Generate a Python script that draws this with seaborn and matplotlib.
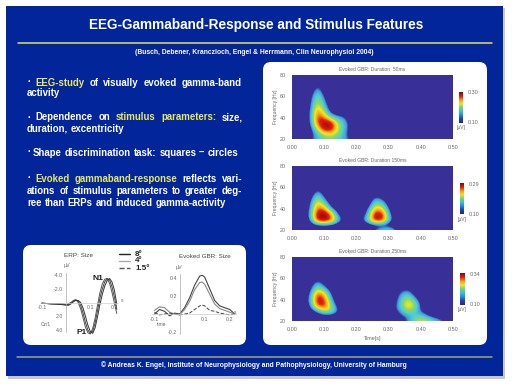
import numpy as np
import seaborn as sns
from matplotlib import pyplot as plt
from matplotlib.colors import LinearSegmentedColormap, Normalize
from matplotlib.patches import FancyBboxPatch, Rectangle

sns.set_theme(style="white")
plt.rcParams["font.family"] = ["Liberation Sans", "DejaVu Sans"]

BLUE = "#02269a"
GREY = "#666666"
BACK = "#382f98"

# time-frequency data, hundredths of a uV
tf_times = [round(0.02 * i, 2) for i in range(26)]
tf_freqs = [20, 25, 30, 35, 40, 45, 50, 55, 60, 65, 70, 75, 80]

gbr_50 = [
    [8, 8, 8, 10, 12, 14, 15, 14, 12, 10, 8, 8, 8, 8, 8, 8, 8, 8, 8, 8, 8, 8, 8, 8, 8, 8],
    [8, 8, 8, 9, 13, 18, 19, 16, 12, 9, 8, 8, 8, 8, 8, 8, 8, 8, 8, 8, 8, 8, 8, 8, 8, 8],
    [8, 8, 8, 9, 18, 30, 31, 19, 13, 9, 8, 8, 8, 8, 8, 8, 8, 8, 8, 8, 8, 8, 8, 8, 8, 8],
    [8, 8, 8, 10, 26, 32, 30, 17, 13, 9, 8, 8, 8, 8, 8, 8, 8, 8, 8, 8, 8, 8, 8, 8, 8, 8],
    [8, 8, 8, 10.5, 27, 24, 15, 12, 11, 8, 8, 8, 8, 8, 8, 8, 8, 8, 8, 8, 8, 8, 8, 8, 8, 8],
    [8, 8, 8, 10.5, 25, 17, 9, 8, 8, 8, 8, 8, 8, 8, 8, 8, 8, 8, 8, 8, 8, 8, 8, 8, 8, 8],
    [8, 8, 8, 10, 21, 13, 8, 8, 8, 8, 8, 8, 8, 8, 8, 8, 8, 8, 8, 8, 8, 8, 8, 8, 8, 8],
    [8, 8, 8, 9.5, 18, 11, 8, 8, 8, 8, 8, 8, 8, 8, 8, 8, 8, 8, 8, 8, 8, 8, 8, 8, 8, 8],
    [8, 8, 8, 9, 16, 9.5, 8, 8, 8, 8, 8, 8, 8, 8, 8, 8, 8, 8, 8, 8, 8, 8, 8, 8, 8, 8],
    [8, 8, 8, 8, 13, 8, 8, 8, 8, 8, 8, 8, 8, 8, 8, 8, 8, 8, 8, 8, 8, 8, 8, 8, 8, 8],
    [8, 8, 8, 8, 10.5, 8, 8, 8, 8, 8, 8, 8, 8, 8, 8, 8, 8, 8, 8, 8, 8, 8, 8, 8, 8, 8],
    [8] * 26,
    [8] * 26,
]
gbr_150 = [
    [8, 8, 8, 8, 8, 8, 8, 8, 8, 8, 8, 8, 8.5, 11, 13, 14, 11, 8, 8, 8, 8, 8, 8, 8, 8, 8],
    [8, 8, 8, 8, 9, 9, 9, 8, 8, 8, 8, 8, 8, 8, 8, 8, 8, 8, 8, 8, 8, 8, 8, 8, 8, 8],
    [8, 8, 8, 11, 28, 33, 26, 14, 9, 8, 8, 10, 16, 30, 28, 13, 8.5, 8, 8, 8, 8, 8, 8, 8, 8, 8],
    [8, 8, 8, 12, 29, 32, 22, 10, 8, 8, 8, 8, 13, 29, 27, 11, 8, 8, 8, 8, 8, 8, 8, 8, 8, 8],
    [8, 8, 8, 11, 25, 22, 11, 8, 8, 8, 8, 8, 10.5, 21, 19, 9.5, 8, 8, 8, 8, 8, 8, 8, 8, 8, 8],
    [8, 8, 8, 10, 21, 14, 8, 8, 8, 8, 8, 8, 8, 15, 13, 8, 8, 8, 8, 8, 8, 8, 8, 8, 8, 8],
    [8, 8, 8, 9, 16, 10, 8, 8, 8, 8, 8, 8, 8, 11, 9.5, 8, 8, 8, 8, 8, 8, 8, 8, 8, 8, 8],
    [8, 8, 8, 8, 12, 8.5, 8, 8, 8, 8, 8, 8, 8, 8, 8, 8, 8, 8, 8, 8, 8, 8, 8, 8, 8, 8],
    [8, 8, 8, 8, 9, 8, 8, 8, 8, 8, 8, 8, 8, 8, 8, 8, 8, 8, 8, 8, 8, 8, 8, 8, 8, 8],
    [8] * 26,
    [8] * 26,
    [8] * 26,
    [8] * 26,
]
gbr_250 = [
    [8, 8, 8, 8, 8, 8, 8, 8, 8, 8, 8, 8, 8, 8, 8, 8, 8, 8, 11, 16, 21, 19, 15, 12, 9.5, 8],
    [8, 8, 8, 8, 8, 8, 8, 8, 8, 8, 8, 8, 8, 8, 8, 8, 8, 10, 12, 14, 14, 10.5, 8, 8, 8, 8],
    [8, 8, 8, 8.5, 12, 20, 19, 11, 8, 8, 8, 8, 8, 8, 8, 8, 9.5, 13, 18, 15, 10, 8, 8, 8, 8, 8],
    [8, 8, 8, 11, 30, 32, 17, 8.5, 8, 8, 8, 8, 8, 8, 8, 8, 9.5, 15, 24, 19, 9, 8, 8, 8, 8, 8],
    [8, 8, 8, 13, 33, 30, 12, 8, 8, 8, 8, 8, 8, 8, 8, 8, 8.5, 14, 20, 13, 8, 8, 8, 8, 8, 8],
    [8, 8, 8, 11, 30, 23, 10, 8, 8, 8, 8, 8, 8, 8, 8, 8, 8, 12, 14, 9, 8, 8, 8, 8, 8, 8],
    [8, 8, 8, 9.5, 19, 13, 8, 8, 8, 8, 8, 8, 8, 8, 8, 8, 8, 9.5, 10, 8, 8, 8, 8, 8, 8, 8],
    [8, 8, 8, 8.5, 13, 9, 8, 8, 8, 8, 8, 8, 8, 8, 8, 8, 8, 8, 8, 8, 8, 8, 8, 8, 8, 8],
    [8, 8, 8, 8, 9, 8, 8, 8, 8, 8, 8, 8, 8, 8, 8, 8, 8, 8, 8, 8, 8, 8, 8, 8, 8, 8],
    [8] * 26,
    [8] * 26,
    [8] * 26,
    [8] * 26,
]

tf_titles = ["Evoked GBR: Duration  50ms", "Evoked GBR: Duration 150ms", "Evoked GBR: Duration 250ms"]
tf_vmax = [0.30, 0.29, 0.34]
tf_vmin = [0.10, 0.10, 0.10]

# ERP: Size
erp_t = [-0.1, -0.06, -0.02, 0.0, 0.01, 0.02, 0.03, 0.04, 0.05, 0.06, 0.07, 0.08, 0.09,
         0.1, 0.11, 0.12, 0.13, 0.14, 0.15, 0.16, 0.17, 0.18, 0.19, 0.2, 0.21]
erp_8 = [0.1, 0.2, 0.2, 0.3, 0.3, 0.1, -0.2, -0.4, -0.2, 0.4, 1.5, 2.9, 4.0,
         4.5, 4.2, 3.0, 1.2, -0.6, -2.0, -3.0, -3.5, -3.3, -2.3, -0.8, 1.0]
erp_4 = [0.1, 0.2, 0.2, 0.3, 0.2, 0.0, -0.3, -0.4, 0.0, 0.9, 2.2, 3.6, 4.4,
         4.6, 3.8, 2.3, 0.4, -1.4, -2.7, -3.4, -3.5, -2.8, -1.5, 0.1, 1.6]
erp_15 = [0.1, 0.2, 0.3, 0.4, 0.4, 0.2, -0.1, -0.3, -0.3, 0.0, 0.8, 2.0, 3.3,
          4.2, 4.5, 3.7, 2.1, 0.3, -1.2, -2.4, -3.2, -3.5, -3.0, -1.8, 0.2]

# Evoked GBR: Size
gbr_t = [-0.1, -0.08, -0.06, -0.04, -0.02, 0.0, 0.02, 0.04, 0.06, 0.08, 0.09, 0.1, 0.12, 0.14, 0.16, 0.18, 0.2, 0.22]
gbr_8 = [0.0, 0.05, 0.03, -0.02, 0.01, 0.0, 0.07, 0.18, 0.32, 0.42, 0.43, 0.41, 0.28, 0.15, 0.09, 0.07, 0.05, 0.0]
gbr_4 = [0.04, 0.08, 0.07, 0.02, 0.0, -0.01, 0.05, 0.14, 0.27, 0.35, 0.355, 0.33, 0.22, 0.11, 0.06, 0.04, 0.02, 0.0]
gbr_15 = [0.02, -0.01, 0.0, 0.01, 0.0, -0.01, 0.0, 0.01, 0.05, 0.09, 0.1, 0.09, 0.04, 0.03, 0.01, 0.0, -0.01, 0.0]

bullets = [
    [("·", "white"), ("EEG-study", "#e8e860"), ("of", "white"), ("visually", "white"), ("evoked", "white"), ("gamma-band", "white")],
    [("activity", "white")],
    [("·", "white"), ("Dependence", "white"), ("on", "white"), ("stimulus", "#e8e860"), ("parameters:", "#e8e860"), ("size,", "white")],
    [("duration,", "white"), ("excentricity", "white")],
    [("·", "white"), ("Shape", "white"), ("discrimination", "white"), ("task:", "white"), ("squares", "white"), ("–", "white"), ("circles", "white")],
    [("·", "white"), ("Evoked", "#e8e860"), ("gammaband-response", "#e8e860"), ("reflects", "white"), ("vari-", "white")],
    [("ations", "white"), ("of", "white"), ("stimulus", "white"), ("parameters", "white"), ("to", "white"), ("greater", "white"), ("deg-", "white")],
    [("ree", "white"), ("than", "white"), ("ERPs", "white"), ("and", "white"), ("induced", "white"), ("gamma-activity", "white")],
]
bullet_y = [83, 94, 118, 129, 153, 179, 191, 203]
bullet_end = [242, 60, 243, 124, 238, 242, 242, 226]
tf_stops = [(0.0, BACK), (0.05, BACK), (0.1, "#40a0e0"), (0.2, "#50d0d0"), (0.32, "#90d860"),
            (0.45, "#f4ea20"), (0.62, "#f8a010"), (0.78, "#e02010"), (1.0, "#b00808")]
bar_colors = ["#2a2a80", "#2040c0", "#1f8fe0", "#30c8d8", "#70d080", "#f0e820", "#f8a010", "#e02010", "#900808"]

W, H = 512, 384
fig = plt.figure(figsize=(W / 100, H / 100), dpi=100, facecolor="white")


def px_axes(x0, y0, x1, y1):
    return fig.add_axes([x0 / W, 1 - y1 / H, (x1 - x0) / W, (y1 - y0) / H])


def style_axis(ax):
    ax.patch.set_alpha(0)
    ax.spines[["top", "right"]].set_visible(False)
    ax.spines["left"].set_position(("data", 0))
    ax.spines["bottom"].set_position(("data", 0))
    ax.spines["left"].set_color("#aaaaaa")
    ax.spines["bottom"].set_color("#cccccc")
    ax.spines["left"].set_linewidth(0.5)
    ax.spines["bottom"].set_linewidth(0.5)
    ax.tick_params(labelsize=3.8, colors=GREY, length=1, width=0.4, pad=1)


bg = fig.add_axes([0, 0, 1, 1])
bg.set_xlim(0, W)
bg.set_ylim(H, 0)
bg.axis("off")

bg.add_patch(Rectangle((8, 8), 497, 371, color="#c8c8c8", lw=0))
bg.add_patch(Rectangle((6, 6), 497, 370, color=BLUE, lw=0))
bg.plot([18, 492], [43, 43], color="#e0e060", lw=1.1)
bg.plot([17, 492], [357, 357], color="#a3a66c", lw=1.1)

for x, y, w, h in [(263, 62, 224, 283), (23, 245, 223, 100)]:
    bg.add_patch(FancyBboxPatch((x + 8, y + 8), w - 16, h - 16, boxstyle="round,pad=8,rounding_size=8",
                                fc="white", ec="none"))

bg.text(256, 25.5, "EEG-Gammaband-Response and Stimulus Features", color="white",
        fontsize=9.8, fontweight="bold", ha="center", va="center")
bg.text(254, 52.5, "(Busch, Debener, Kranczioch, Engel & Herrmann, Clin Neurophysiol 2004)",
        color="white", fontsize=4.9, fontweight="bold", ha="center", va="center")
bg.text(254, 365, "© Andreas K. Engel, Institute of Neurophysiology and Pathophysiology, University of Hamburg",
        color="white", fontsize=4.86, fontweight="bold", ha="center", va="center")

# justified bullet text, the words are spread up to the line end
renderer = fig.canvas.get_renderer()
for parts, y, end in zip(bullets, bullet_y, bullet_end):
    words = [bg.text(0, y + 2.5, s, color=c, fontsize=6.95, fontweight="bold", va="baseline", ha="left")
             for s, c in parts]
    widths = [t.get_window_extent(renderer).width for t in words]
    gap = (end - 27 - sum(widths)) / max(len(words) - 1, 1)
    x = 27
    for t, w in zip(words, widths):
        t.set_x(x)
        x += w + gap

# time-frequency panels
tf_cmap = LinearSegmentedColormap.from_list("tf", tf_stops)
bar_cmap = LinearSegmentedColormap.from_list("bar", bar_colors)
tf_boxes = [(75, 139), (166, 230), (257, 321)]
bar_boxes = [(459, 92, 463, 123), (460, 183, 464, 214), (460, 273, 465, 305)]
grids = [gbr_50, gbr_150, gbr_250]

for i, grid in enumerate(grids):
    y0, y1 = tf_boxes[i]
    ax = px_axes(292, y0, 453, y1)
    z = np.array(grid) / 100
    ax.imshow(z, origin="lower", aspect="auto", interpolation="bicubic", cmap=tf_cmap,
              norm=Normalize(0.09, tf_vmax[i] + 0.01),
              extent=(tf_times[0] - 0.01, tf_times[-1] + 0.01, tf_freqs[0] - 2.5, tf_freqs[-1] + 2.5))
    ax.set_xlim(0, 0.5)
    ax.set_ylim(20, 80)
    ax.set_xticks([0, 0.1, 0.2, 0.3, 0.4, 0.5])
    ax.set_xticklabels(["0.00", "0.10", "0.20", "0.30", "0.40", "0.50"])
    ax.set_yticks([20, 40, 60, 80])
    ax.tick_params(labelsize=3.9, colors=GREY, length=0, pad=4.5)
    ax.grid(False)
    for s in ax.spines.values():
        s.set_visible(False)
    ax.set_ylabel("Frequency [Hz]", fontsize=3.6, color=GREY, labelpad=1.5)
    ax.set_title(tf_titles[i], fontsize=3.6, color=GREY, pad=3)
    if i == 2:
        ax.set_xlabel("Time[s]", fontsize=3.9, color=GREY, labelpad=2.5)

    bx0, by0, bx1, by1 = bar_boxes[i]
    cax = px_axes(bx0, by0, bx1, by1)
    cax.imshow(np.linspace(1, 0, 32).reshape(-1, 1), aspect="auto", cmap=bar_cmap)
    cax.axis("off")
    bg.text(bx1 + 4.5, by0 + 1, f"{tf_vmax[i]:.2f}", fontsize=3.9, color=GREY, va="center")
    bg.text(bx1 + 4.5, by1, f"{tf_vmin[i]:.2f}", fontsize=3.9, color=GREY, va="center")
    bg.text(bx0 + 2, by1 + 5, "[µV]", fontsize=3.5, color=GREY, ha="center", va="center")

# ERP panel, negative up
ax = px_axes(42, 273, 118, 332)
sns.lineplot(x=erp_t, y=erp_8, ax=ax, color="#444444", lw=0.7, legend=False, clip_on=False)
sns.lineplot(x=erp_t, y=erp_4, ax=ax, color="#555555", lw=0.7, legend=False, clip_on=False)
sns.lineplot(x=erp_t, y=erp_15, ax=ax, color="#333333", lw=0.7, legend=False, clip_on=False)
ax.set_xlim(-0.1, 0.215)
ax.set_ylim(4.3, -4.3)
style_axis(ax)
ax.set_xticks([-0.1, 0.1, 0.2])
ax.set_xticklabels(["-0.1", "0.1", "0.2"])
ax.set_yticks([-4, -2, 2, 4])
ax.set_yticklabels(["-4.0", "-2.0", "2.0", "4.0"])

# Evoked GBR panel
ax = px_axes(152, 274, 236, 334)
sns.lineplot(x=gbr_t, y=gbr_8, ax=ax, color="#444444", lw=0.8, legend=False)
sns.lineplot(x=gbr_t, y=gbr_4, ax=ax, color="#888888", lw=0.8, legend=False)
sns.lineplot(x=gbr_t, y=gbr_15, ax=ax, color="#444444", lw=0.7, ls="--", legend=False)
ax.set_xlim(-0.11, 0.225)
ax.set_ylim(-0.222, 0.444)
style_axis(ax)
ax.set_xticks([-0.1, 0.1, 0.2])
ax.set_xticklabels(["-0.1", "0.1", "0.2"])
ax.set_yticks([-0.2, 0.2, 0.4])
ax.set_yticklabels(["-0.2", "0.2", "0.4"])

bg.text(78, 255.5, "ERP: Size", fontsize=4.6, color="#444444", ha="center", va="center")
bg.text(205, 256, "Evoked GBR: Size", fontsize=4.5, color="#444444", ha="center", va="center")
bg.text(98, 278, "N1", fontsize=6, fontweight="bold", color="#222222", ha="center", va="center")
bg.text(82, 332, "P1", fontsize=6, fontweight="bold", color="#222222", ha="center", va="center")
bg.text(64, 266, "µV", fontsize=3.8, color=GREY, ha="left", va="center")
bg.text(176, 268, "µV", fontsize=3.8, color=GREY, ha="left", va="center")
bg.text(46, 324, "Cz/1", fontsize=3.5, color=GREY, ha="center", va="center")
bg.text(162, 325, "time", fontsize=3.5, color=GREY, ha="center", va="center")
bg.text(122, 301, "s", fontsize=3.5, color=GREY, ha="center", va="center")
bg.text(235, 312, "s", fontsize=3.5, color=GREY, ha="center", va="center")

for y, lab, c, ls in [(254, "8°", "#222222", "-"), (261, "4°", "#aaaaaa", "-"), (268, "1.5°", "#555555", "--")]:
    bg.plot([119, 130], [y, y], color=c, lw=1, ls=ls, zorder=5)
    bg.text(135, y, lab, fontsize=5.8, fontweight="bold", color="#222222", va="center", ha="left")

fig.savefig("out.png", dpi=100)
